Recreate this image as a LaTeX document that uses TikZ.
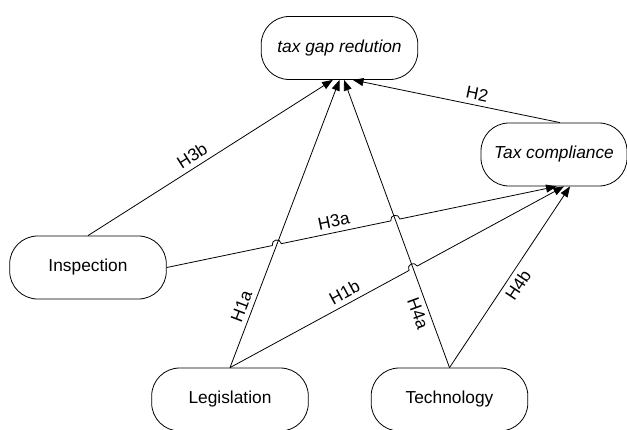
\documentclass[tikz,border=0pt]{standalone}
\usepackage{fontspec}
\setmainfont{Liberation Sans}
\usetikzlibrary{arrows.meta,intersections,calc}

\tikzset{
  box/.style={draw, rounded corners=21pt, minimum width=117.5pt, minimum height=47.25pt,
    line width=0.6pt, font=\fontsize{13}{15}\selectfont},
  link/.style={draw, line width=0.6pt, -{Triangle[length=8pt,width=6pt]}},
  lbl/.style={sloped, inner sep=3.5pt, font=\fontsize{13}{15}\selectfont},
  hop/.style={bend left=90, looseness=1.7}
}

\begin{document}
\begin{tikzpicture}[x=0.75pt, y=0.75pt]
    \useasboundingbox (0,0) rectangle (627,429);

    % Nodes
    \node[box, font=\fontsize{13}{15}\selectfont\itshape] (gap) at (339.5, 381) {tax gap redution};
    \node[box, minimum width=109.5pt, font=\fontsize{13}{15}\selectfont\itshape] (comp) at (554, 274.5) {Tax compliance};
    \node[box] (insp) at (88, 161.5) {Inspection};
    \node[box] (legis) at (230, 29.5) {Legislation};
    \node[box] (tech) at (449.5, 29.5) {Technology};

    % End points on the boxes
    \coordinate (gA) at ([xshift=-5pt]gap.south);
    \coordinate (gB) at (gap.south);
    \coordinate (gC) at ([xshift=3.4pt]gap.south);
    \coordinate (gD) at ([xshift=10pt]gap.south);
    \coordinate (cA) at ([xshift=2pt]comp.south);
    \coordinate (cB) at ([xshift=7.5pt]comp.south);
    \coordinate (cC) at ([xshift=12pt]comp.south);
    \coordinate (cN) at ([xshift=4.5pt]comp.north);

    % Crossings
    \path[name path=h1a] (legis.north) -- (gB);
    \path[name path=h4a] (tech.north) -- (gC);
    \path[name path=h3a] (insp.east) -- (cA);
    \path[name path=h1b] (legis.north) -- (cB);
    \path[name intersections={of=h3a and h1a, by=j1}];
    \path[name intersections={of=h3a and h4a, by=j2}];
    \path[name intersections={of=h1b and h4a, by=j3}];

    % Edges with labels
    \draw[link] (insp.north) -- node[lbl, pos=0.45, above] {H3b} (gA);
    \draw[link] (legis.north) -- node[lbl, pos=0.2, above] {H1a} (gB);
    \draw[link] (tech.north) -- node[lbl, pos=0.2, below] {H4a} (gC);
    \draw[link] (cN) -- node[lbl, pos=0.41, above] {H2} (gD);
    \draw[link] (insp.east) -- ($(j1)!3.5pt!(insp.east)$) to[hop] ($(j1)!3.5pt!(cA)$)
      -- node[lbl, pos=0.5, above] {H3a} ($(j2)!3.5pt!(insp.east)$) to[hop] ($(j2)!3.5pt!(cA)$) -- (cA);
    \draw[link] (legis.north) -- node[lbl, pos=0.67, above] {H1b} ($(j3)!3.5pt!(legis.north)$)
      to[hop] ($(j3)!3.5pt!(cB)$) -- (cB);
    \draw[link] (tech.north) -- node[lbl, pos=0.49, below] {H4b} (cC);
\end{tikzpicture}
\end{document}
